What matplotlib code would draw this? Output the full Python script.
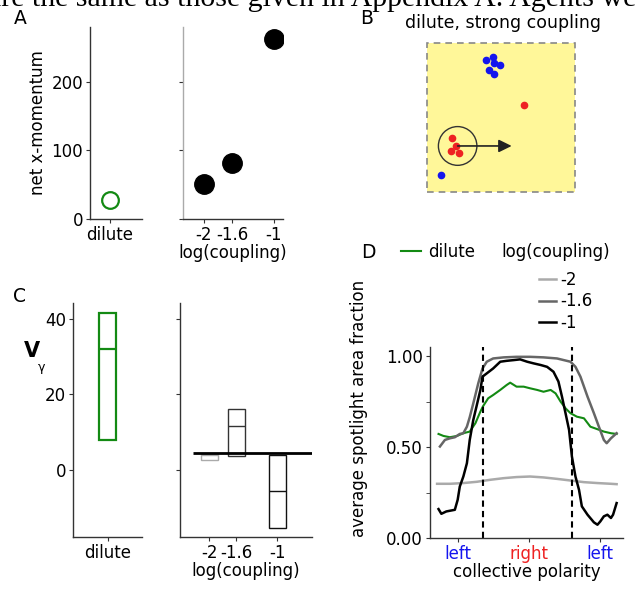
import matplotlib
matplotlib.use("Agg")
import matplotlib.pyplot as plt
import matplotlib.patches as patches

plt.rcParams["font.family"] = ["DejaVu Sans"]
plt.rcParams["font.size"] = 12

GREEN = "#138a13"
BLUE = "#1414ee"
RED = "#ee2222"
SPINE = "#333333"
YELLOW = "#fff799"

# A: net x-momentum
dilute_momentum = [28]
coupling = [-2, -1.6, -1]
coupling_labels = ["-2", "-1.6", "-1"]
coupling_momentum = [51, 81, 263]

# B: snapshot, dilute / strong coupling
blue_x = [0.397, 0.444, 0.455, 0.495, 0.417, 0.453, 0.097]
blue_y = [0.886, 0.908, 0.864, 0.850, 0.819, 0.790, 0.114]
red_x = [0.653, 0.171, 0.194, 0.160, 0.216]
red_y = [0.584, 0.360, 0.309, 0.273, 0.262]
spot_center = (0.207, 0.309)
spot_radius = 0.13
spot_heading = (0.572, 0.309)

# C: V_gamma boxes (low, median, high)
dilute_v_low, dilute_v_med, dilute_v_high = [7.9], [32.0], [41.6]
coupling_v_low = [2.7, 3.8, -15.2]
coupling_v_med = [4.1, 11.6, -5.6]
coupling_v_high = [4.3, 16.1, 4.0]
coupling_box_colors = ["#aaaaaa", "#333333", "#111111"]
v_reference = 4.4

# D: spotlight area fraction vs collective polarity (x in units of pi)
dil_x = [-1.27, -1.20, -1.11, -1.01, -0.92, -0.83, -0.75, -0.68, -0.64, -0.57, -0.50,
         -0.40, -0.31, -0.26, -0.17, -0.07, 0.02, 0.12, 0.21, 0.31, 0.38, 0.45, 0.52,
         0.59, 0.68, 0.78, 0.87, 0.97, 1.06, 1.16, 1.24]
dil_y = [0.572, 0.561, 0.554, 0.561, 0.576, 0.585, 0.631, 0.695, 0.726, 0.768, 0.786,
         0.814, 0.841, 0.854, 0.832, 0.832, 0.823, 0.814, 0.804, 0.814, 0.795, 0.750, 0.713,
         0.686, 0.667, 0.658, 0.612, 0.598, 0.585, 0.576, 0.572]
c2_x = [-1.29, -1.11, -0.92, -0.73, -0.54, -0.35, -0.17, 0.02, 0.21, 0.40, 0.59, 0.78,
        0.97, 1.16, 1.24]
c2_y = [0.298, 0.298, 0.302, 0.309, 0.320, 0.329, 0.335, 0.338, 0.333, 0.325, 0.316,
        0.307, 0.302, 0.298, 0.296]
c16_x = [-1.25, -1.18, -1.11, -1.04, -0.97, -0.92, -0.87, -0.83, -0.78, -0.71, -0.65,
         -0.59, -0.50, -0.35, -0.17, 0.02, 0.21, 0.40, 0.59, 0.66, 0.73, 0.83, 0.92, 0.99,
         1.06, 1.10, 1.16, 1.24]
c16_y = [0.503, 0.539, 0.548, 0.554, 0.572, 0.576, 0.612, 0.664, 0.740, 0.850, 0.932,
         0.969, 0.987, 0.993, 0.996, 0.996, 0.993, 0.987, 0.969, 0.941, 0.887, 0.777, 0.686,
         0.612, 0.539, 0.521, 0.548, 0.576]
c1_x = [-1.27, -1.23, -1.16, -1.08, -1.04, -1.00, -0.97, -0.92, -0.87, -0.83, -0.78, -0.73,
        -0.68, -0.65, -0.59, -0.50, -0.40, -0.31, -0.21, -0.12, -0.02, 0.07, 0.17, 0.26,
        0.35, 0.42, 0.47, 0.52, 0.57, 0.61, 0.66, 0.71, 0.75, 0.83, 0.92, 0.97, 1.01, 1.06,
        1.11, 1.16, 1.19, 1.24]
c1_y = [0.159, 0.133, 0.146, 0.152, 0.155, 0.210, 0.283, 0.338, 0.411, 0.539, 0.649, 0.731,
        0.814, 0.887, 0.905, 0.932, 0.969, 0.974, 0.978, 0.982, 0.969, 0.960, 0.951, 0.941,
        0.914, 0.860, 0.777, 0.686, 0.594, 0.448, 0.338, 0.265, 0.174, 0.128, 0.086, 0.073,
        0.091, 0.119, 0.128, 0.110, 0.128, 0.192]
polarity_ticks = [-1, 0, 1]
polarity_labels = ["left", "right", "left"]
polarity_colors = [BLUE, RED, BLUE]
flip_positions = [-0.65, 0.61]


def _px(left, top, right, bottom, w=635, h=594):
    return [left / w, 1 - bottom / h, (right - left) / w, (bottom - top) / h]


def _style(ax):
    ax.spines["top"].set_visible(False)
    ax.spines["right"].set_visible(False)
    for s in ("left", "bottom"):
        ax.spines[s].set_color(SPINE)
        ax.spines[s].set_linewidth(1.0)
    ax.tick_params(length=3, color=SPINE, pad=2, labelsize=12)


fig = plt.figure(figsize=(6.35, 5.94), dpi=100)

# texto da página cortado no topo
fig.text(-12 / 635, 1 - 6 / 594, "are the same as those given in Appendix A. Agents were",
         family="Liberation Serif", fontsize=21.5, ha="left", va="baseline")

# ---- A
axA1 = fig.add_axes(_px(90, 27, 142, 219))
axA1.plot([0], dilute_momentum, "o", ms=12, mfc="none", mec=GREEN, mew=1.6)
axA1.set_xlim(-0.385, 0.615)
axA1.set_ylim(0, 280)
axA1.set_xticks([0], ["dilute"])
axA1.set_yticks([0, 100, 200])
axA1.set_ylabel("net x-momentum", labelpad=3)
_style(axA1)

axA2 = fig.add_axes(_px(183, 27, 283, 219))
axA2.plot(coupling, coupling_momentum, "o", ms=14, color="black")
axA2.set_xlim(-2.3, -0.87)
axA2.set_ylim(0, 280)
axA2.set_xticks(coupling, coupling_labels)
axA2.set_yticks([0, 100, 200], [])
axA2.set_xlabel("log(coupling)", labelpad=0)
_style(axA2)
axA2.spines["left"].set_color("#aaaaaa")

# ---- B
axB = fig.add_axes(_px(427, 43, 575, 192))
axB.add_patch(patches.Rectangle((0, 0), 1, 1, facecolor=YELLOW, edgecolor="#888888",
                                lw=1.2, ls=(0, (4, 3)), clip_on=False))
axB.plot(blue_x, blue_y, "o", ms=4.5, color=BLUE)
axB.plot(red_x, red_y, "o", ms=4.5, color=RED)
axB.add_patch(patches.Circle(spot_center, spot_radius, fill=False, ec="#333333", lw=1.0))
axB.annotate("", xy=spot_heading, xytext=spot_center,
             arrowprops=dict(arrowstyle="-|>,head_length=0.65,head_width=0.32",
                             color="#222222", lw=1.2, shrinkA=0, shrinkB=0))
axB.set_xlim(0, 1)
axB.set_ylim(0, 1)
axB.axis("off")
fig.text(503 / 635, 1 - 23 / 594, "dilute, strong coupling", ha="center", va="center", fontsize=12.5)

# ---- C
axC1 = fig.add_axes(_px(73, 303, 142, 537))
axC1.bar([0], [h - l for h, l in zip(dilute_v_high, dilute_v_low)], bottom=dilute_v_low,
         width=0.232, fill=False, edgecolor=GREEN, lw=1.6)
axC1.hlines(dilute_v_med, -0.116, 0.116, color=GREEN, lw=1.6)
axC1.set_xlim(-0.5, 0.5)
axC1.set_ylim(-17.7, 44.2)
axC1.set_xticks([0], ["dilute"])
axC1.set_yticks([0, 20, 40])
_style(axC1)

axC2 = fig.add_axes(_px(180, 303, 312, 537))
for x, lo, med, hi, c in zip(coupling, coupling_v_low, coupling_v_med, coupling_v_high,
                             coupling_box_colors):
    axC2.bar([x], [hi - lo], bottom=[lo], width=0.25, fill=False, edgecolor=c, lw=1.0)
    axC2.hlines(med, x - 0.125, x + 0.125, color=c, lw=1.0)
axC2.hlines(v_reference, -2.24, -0.49, color="black", lw=2.0)
axC2.set_xlim(-2.43, -0.49)
axC2.set_ylim(-17.7, 44.2)
axC2.set_xticks(coupling, coupling_labels)
axC2.set_yticks([0, 20, 40], [])
axC2.set_xlabel("log(coupling)", labelpad=0)
_style(axC2)

fig.text(32 / 635, 1 - 351 / 594, "V", fontsize=15, fontweight="bold", ha="center", va="center")
fig.text(42 / 635, 1 - 367 / 594, "γ", fontsize=9, ha="center", va="center")

# ---- D
axD = fig.add_axes(_px(430, 347, 623, 538))
lD, = axD.plot(dil_x, dil_y, color=GREEN, lw=1.5, label="dilute")
l2, = axD.plot(c2_x, c2_y, color="#aaaaaa", lw=1.8, label="-2")
l16, = axD.plot(c16_x, c16_y, color="#666666", lw=1.8, label="-1.6")
l1, = axD.plot(c1_x, c1_y, color="black", lw=1.8, label="-1")
for xv in flip_positions:
    axD.axvline(xv, color="black", ls=(0, (3, 2)), lw=1.5)
axD.set_xlim(-1.39, 1.33)
axD.set_ylim(0, 1.05)
axD.set_yticks([0, 0.5, 1.0], ["0.00", "0.50", "1.00"])
axD.set_yticks([0.25, 0.75], minor=True)
axD.set_xticks(polarity_ticks, polarity_labels)
_style(axD)
axD.tick_params(which="minor", length=3, color=SPINE)
for lbl, c in zip(axD.get_xticklabels(), polarity_colors):
    lbl.set_color(c)
axD.set_xlabel("collective polarity", labelpad=0)
axD.set_ylabel("average spotlight area fraction")
axD.yaxis.set_label_coords(-0.32, 0.68)

leg1 = axD.legend(handles=[lD], loc="center left", bbox_to_anchor=(401 / 635, 1 - 252 / 594),
                  bbox_transform=fig.transFigure, frameon=False, handlelength=1.2,
                  handletextpad=0.4, borderpad=0, borderaxespad=0, fontsize=12)
axD.add_artist(leg1)
fig.text(556 / 635, 1 - 252 / 594, "log(coupling)", ha="center", va="center", fontsize=12)
axD.legend(handles=[l2, l16, l1], loc="upper left",
           bbox_to_anchor=(539 / 635, 1 - 271 / 594), bbox_transform=fig.transFigure,
           frameon=False, handlelength=1.0, handletextpad=0.3, labelspacing=0.2,
           borderpad=0, borderaxespad=0, fontsize=12)

for lbl, x, y in [("A", 20, 18), ("B", 367, 18), ("C", 20, 296), ("D", 368, 252)]:
    fig.text(x / 635, 1 - y / 594, lbl, fontsize=13.5, ha="center", va="center")

fig.savefig("out.png", dpi=100)
